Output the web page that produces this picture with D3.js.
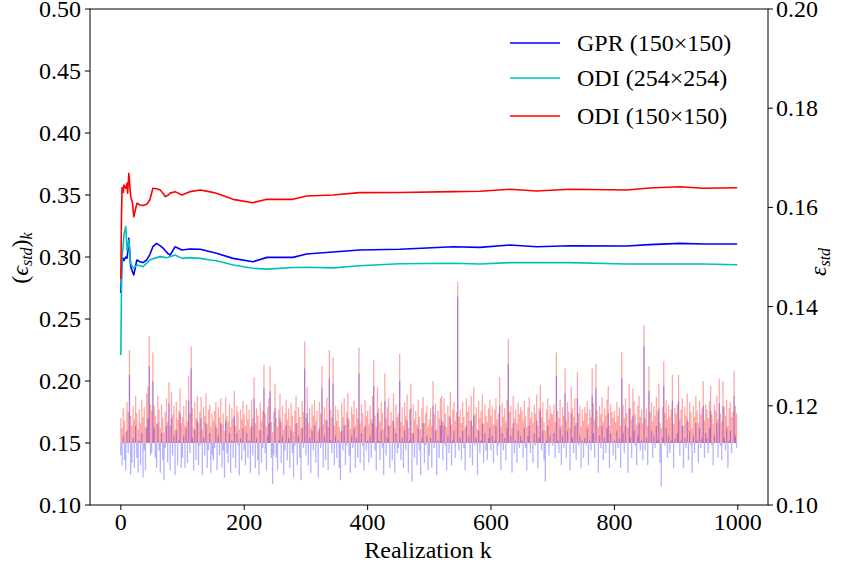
<!DOCTYPE html>
<html>
<head>
<meta charset="utf-8">
<script src="https://cdn.jsdelivr.net/npm/d3@7"></script>
<style>
  html, body { margin: 0; padding: 0; background: #fff; }
  svg { display: block; }
</style>
</head>
<body>
<svg id="chart" width="850" height="569" font-family="Liberation Serif"></svg>
<script>
// Running mean of the error, sampled at these realizations
const lineK = [0,1,2,4,5,8,10,11,13,16,19,21,26,31,36,42,47,52,58,64,69,72,77,80,88,99,112,129,145,155,182,214,237,279,301,344,387,452,539,582,631,674,728,820,857,906,944,999];

const gprMean = [0.271,0.285,0.299,0.2989,0.297,0.300,0.299,0.303,0.315,0.2922,0.288,0.2855,0.2976,0.2962,0.2955,0.2976,0.302,0.3083,0.311,0.309,0.307,0.305,0.3025,0.3016,0.3083,0.3056,0.3065,0.3062,0.3043,0.3030,0.2989,0.2962,0.2997,0.2997,0.3024,0.3040,0.3056,0.3062,0.3083,0.3078,0.3097,0.3083,0.3091,0.3089,0.3100,0.3110,0.3105,0.3105];

const odi254Mean = [0.221,0.270,0.300,0.310,0.318,0.3245,0.3056,0.308,0.3137,0.2949,0.292,0.2909,0.2935,0.2930,0.2922,0.2950,0.2976,0.2985,0.2995,0.3003,0.3000,0.2995,0.2998,0.3003,0.3016,0.2989,0.2995,0.2989,0.2976,0.2970,0.2935,0.2909,0.2902,0.2915,0.2917,0.2912,0.2930,0.2945,0.2949,0.2943,0.2955,0.2955,0.2955,0.2943,0.2943,0.2943,0.2943,0.2938];

const odi150Mean = [0.282,0.330,0.356,0.352,0.358,0.3554,0.3594,0.3514,0.3675,0.3487,0.3433,0.3325,0.3433,0.3420,0.3415,0.3425,0.3460,0.3554,0.3550,0.3540,0.3510,0.3487,0.3500,0.3515,0.3527,0.3500,0.3527,0.3540,0.3525,0.3514,0.3465,0.3438,0.3465,0.3465,0.3492,0.3500,0.3519,0.3520,0.3527,0.3530,0.3546,0.3532,0.3546,0.3540,0.3556,0.3567,0.3554,0.3559];

// Per-realization deviation from the 0.15 reference, in thousandths, every 2nd realization
const barBase = 0.15;
const odiDev = [
20,12,28,18,9,33,25,75,22,14,30,19,38,24,11,27,16,35,21,29,13,40,45,86,31,
26,73,30,22,15,38,27,12,31,20,9,25,36,17,49,14,41,23,30,11,33,19,26,44,16,
21,30,14,35,18,54,24,78,28,12,33,20,38,16,25,37,11,29,22,40,15,27,31,13,24,
18,26,33,12,29,21,36,15,24,10,37,22,17,31,13,28,20,42,14,30,25,11,27,19,34,
23,14,31,19,27,12,35,20,53,16,28,22,11,33,18,26,63,24,13,29,36,62,17,9,25,
48,20,13,27,40,17,30,11,24,35,19,28,14,32,22,9,26,38,16,29,21,12,34,25,82,
20,45,16,28,12,31,22,35,18,26,10,33,24,62,15,29,19,37,13,75,27,21,69,14,30,
18,27,13,9,32,21,36,15,25,40,19,11,29,23,34,14,28,20,77,16,31,24,12,35,22,
26,15,30,19,38,67,22,13,45,28,17,33,24,11,56,20,29,36,14,25,18,40,12,31,21,
24,72,17,29,14,33,22,39,12,27,48,8,31,19,26,15,35,21,11,28,37,16,24,30,13,
19,28,14,50,23,32,11,26,20,36,38,17,36,24,13,30,22,41,15,27,33,18,25,130,21,
27,16,33,21,12,36,25,30,18,38,14,45,23,29,11,34,20,26,39,15,31,22,17,28,35,
22,30,15,27,36,19,24,53,13,32,21,28,17,35,84,25,30,12,38,20,27,16,33,23,29,
26,18,34,22,13,29,37,20,25,16,31,24,39,14,28,47,21,33,17,10,27,36,19,30,24,
23,31,17,73,26,20,35,14,29,22,60,18,33,25,12,45,28,21,36,16,57,24,30,13,27,
18,29,24,34,15,27,21,60,32,19,64,26,13,30,23,37,17,28,22,35,46,14,31,25,20,
26,17,33,22,29,14,73,31,20,36,24,12,48,28,19,44,34,23,15,30,38,21,27,16,95,
20,28,14,62,25,33,18,30,22,37,26,48,16,12,29,66,24,35,19,31,21,27,55,15,28,
24,31,55,19,27,36,14,29,22,40,17,33,25,12,30,21,38,26,16,34,23,28,50,18,31,
27,20,34,46,23,15,31,26,38,19,52,24,17,50,29,22,35,14,28,33,21,25,58,30,24];

const gprDev = [
-10,-18,6,-14,-22,10,-8,55,-26,-16,4,-20,14,-12,-24,2,-18,8,-28,-6,-22,12,20,62,-10,
-8,50,12,-12,-20,16,-6,-24,8,-14,-30,-4,14,-16,32,-22,20,-10,6,-26,10,-18,2,24,-20,
-12,6,-20,12,-16,34,-8,60,4,-22,10,-14,18,-18,-2,20,-26,4,-10,16,-20,-6,8,-24,-10,
-14,-4,14,-22,6,-10,16,-20,-6,-28,18,-8,-16,8,-24,2,-12,22,-20,8,-2,-26,4,-14,12,
-6,-18,8,-12,2,-24,14,-10,36,-20,4,-14,-26,10,-16,-4,44,-8,-22,6,16,42,-12,-33,-10,
28,-12,-22,2,20,-16,6,-26,-6,14,-14,4,-20,10,-8,-28,-2,16,-18,6,-12,-30,12,-4,60,
-10,24,-18,4,-24,10,-6,14,-16,2,-28,12,-4,44,-20,6,-14,18,-22,52,2,-8,48,-18,6,
-12,2,-20,-30,10,-6,14,-18,-2,20,-10,-24,6,-4,12,-20,4,-12,56,-16,8,-2,-22,14,-6,
2,-16,6,-12,16,46,-6,-22,24,2,-14,10,-4,-26,34,-10,4,14,-20,0,-14,18,-24,8,-8,
-4,50,-14,4,-20,10,-6,18,-24,2,28,-31,8,-12,0,-18,12,-6,-26,4,16,-16,-2,6,-22,
-10,4,-20,30,-4,10,-26,2,-12,14,18,-14,14,-2,-22,6,-8,20,-18,2,10,-12,0,118,-6,
4,-14,10,-4,-22,14,0,6,-12,18,-18,22,-2,4,-26,10,-8,2,16,-16,8,-6,-14,4,12,
-6,6,-16,2,14,-10,-2,30,-22,8,-6,4,-14,12,64,0,6,-24,16,-8,2,-16,10,-4,6,
2,-12,12,-4,-22,6,14,-8,0,-16,8,-2,18,-20,4,26,-6,10,-14,-31,2,14,-10,6,0,
-2,8,-12,54,2,-8,12,-18,6,-4,40,-12,10,0,-22,24,4,-8,14,-14,36,-2,6,-20,2,
-12,4,-2,12,-18,2,-6,38,8,-12,44,0,-24,6,-4,14,-14,4,-8,12,24,-20,8,0,-10,
2,-14,10,-4,4,-20,52,8,-8,14,0,-24,28,4,-12,22,10,-2,-18,6,16,-6,2,-14,78,
-6,4,-18,42,0,10,-12,6,-4,14,2,28,-16,-35,4,46,-2,12,-12,6,-8,2,34,-20,4,
0,8,34,-10,2,14,-20,4,-4,18,-14,10,-2,-24,6,-8,16,2,-16,12,-4,4,30,-12,8,
4,-8,12,26,-2,-18,6,0,16,-12,32,-2,-14,30,4,-6,12,-20,2,10,-8,0,38,6,-4];

const xTicks = [0, 200, 400, 600, 800, 1000];
const yLeftTicks = [0.10, 0.15, 0.20, 0.25, 0.30, 0.35, 0.40, 0.45, 0.50];
const yRightTicks = [0.10, 0.12, 0.14, 0.16, 0.18, 0.20];

const seriesNames = ["GPR (150×150)", "ODI (254×254)", "ODI (150×150)"];
const seriesColors = ["#0000ff", "#00bfbf", "#ff0000"];

const FONT = "Liberation Serif";
const FS = 24;

const svg = d3.select("#chart");
const L = 90, R = 768, T = 9, B = 505;

const x = d3.scaleLinear().domain([-49.95, 1048.95]).range([L, R]);
const yL = d3.scaleLinear().domain([0.10, 0.50]).range([B, T]);
const yR = d3.scaleLinear().domain([0.10, 0.20]).range([B, T]);

// bars: one per sampled realization, spanning from the reference level
const barK = d3.range(0, 1000, 2);
const barW = (x(2) - x(0)) * 1.05;
function drawBars(dev, color, op) {
  svg.append("g").selectAll("rect").data(dev).join("rect")
    .attr("x", (d, i) => x(barK[i]) - barW / 2)
    .attr("width", barW)
    .attr("y", d => yL(Math.max(barBase, barBase + d / 1000)))
    .attr("height", d => Math.abs(yL(barBase + d / 1000) - yL(barBase)))
    .attr("fill", color)
    .attr("fill-opacity", op);
}
drawBars(odiDev, "#ff0000", 0.34);
drawBars(gprDev, "#0000ff", 0.3);

// running-mean curves
const line = d3.line().x(d => x(d[0])).y(d => yL(d[1]));
[gprMean, odi254Mean, odi150Mean].forEach((vals, s) => {
  svg.append("path")
    .datum(lineK.map((k, i) => [k, vals[i]]))
    .attr("d", line)
    .attr("fill", "none")
    .attr("stroke", seriesColors[s])
    .attr("stroke-width", 1.6)
    .attr("stroke-linejoin", "round");
});

// plain text labels drawn by hand (no axis generator text)
function label(xp, yp, str, anchor, baseline) {
  return svg.append("text")
    .attr("x", xp).attr("y", yp)
    .attr("font-family", FONT).attr("font-size", FS)
    .attr("text-anchor", anchor)
    .attr("dominant-baseline", baseline || "auto")
    .attr("fill", "#000")
    .text(str);
}

// tick marks
const tickG = svg.append("g").attr("stroke", "#000").attr("stroke-width", 1);
xTicks.forEach(t => {
  tickG.append("line").attr("x1", x(t)).attr("x2", x(t)).attr("y1", B).attr("y2", B + 5);
  label(x(t), B + 25, d3.format("d")(t), "middle");
});
yLeftTicks.forEach(t => {
  tickG.append("line").attr("x1", L - 5).attr("x2", L).attr("y1", yL(t)).attr("y2", yL(t));
  label(L - 9, yL(t) + 8, d3.format(".2f")(t), "end");
});
yRightTicks.forEach(t => {
  tickG.append("line").attr("x1", R).attr("x2", R + 5).attr("y1", yR(t)).attr("y2", yR(t));
  label(R + 8, yR(t) + 8, d3.format(".2f")(t), "start");
});

// frame
svg.append("rect").attr("x", L).attr("y", T).attr("width", R - L).attr("height", B - T)
  .attr("fill", "none").attr("stroke", "#000").attr("stroke-width", 1);

// axis titles
label((L + R) / 2 - 1, 558, "Realization k", "middle");

const lt = svg.append("text").attr("transform", "translate(28,258) rotate(-90)")
  .attr("font-family", FONT).attr("font-size", FS).attr("text-anchor", "middle");
lt.append("tspan").text("(");
lt.append("tspan").attr("font-style", "italic").text("ϵ");
lt.append("tspan").attr("font-style", "italic").attr("font-size", 16).attr("dy", 4).text("std");
lt.append("tspan").attr("dy", -4).text(")");
lt.append("tspan").attr("font-style", "italic").attr("font-size", 16).attr("dy", 4).text("k");

const rt = svg.append("text").attr("transform", "translate(826,262) rotate(-90)")
  .attr("font-family", FONT).attr("font-size", FS).attr("text-anchor", "middle");
rt.append("tspan").attr("font-style", "italic").text("ε");
rt.append("tspan").attr("font-style", "italic").attr("font-size", 16).attr("dy", 4).text("std");

// legend
const legY = [43, 78, 116];
seriesNames.forEach((name, i) => {
  svg.append("line").attr("x1", 510).attr("x2", 560).attr("y1", legY[i]).attr("y2", legY[i])
    .attr("stroke", seriesColors[i]).attr("stroke-width", 1.6);
  label(577, legY[i] + 8, name, "start");
});
</script>
</body>
</html>
